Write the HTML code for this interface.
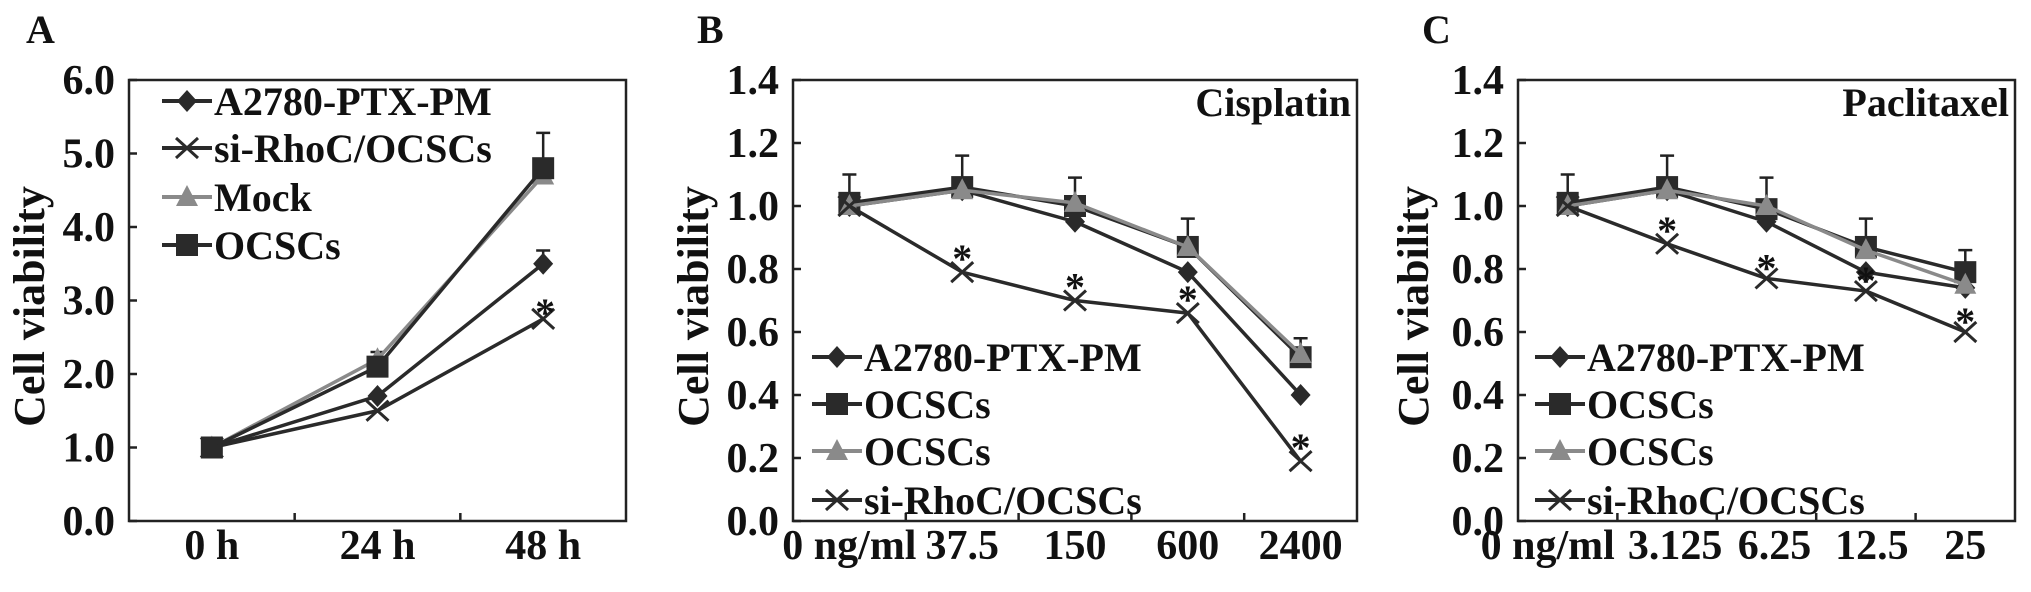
<!DOCTYPE html>
<html><head><meta charset="utf-8"><style>
html,body{margin:0;padding:0;background:#fff}
svg{display:block}
text{font-family:"Liberation Serif",serif;font-weight:bold;fill:#111}
</style></head>
<body>
<svg id="fig" width="2031" height="592" viewBox="0 0 2031 592" xmlns="http://www.w3.org/2000/svg"></svg>
<script>
// Panel A data
const catsA = ["0 h","24 h","48 h"];
const aPtx = [1.0,1.7,3.5];
const aSi = [1.0,1.5,2.75];
const aMock = [1.0,2.2,4.7];
const aOcsc = [1.0,2.1,4.8];
const aErrTop = [1.0,2.3,5.28];
const aErrPtx = [null,null,3.68];
const aStar = [null,null,2.95];
const ticksA = ["0.0","1.0","2.0","3.0","4.0","5.0","6.0"];
// Panel B data
const catsB = ["0 ng/ml","37.5","150","600","2400"];
const bPtx = [1.0,1.05,0.95,0.79,0.40];
const bOcsc = [1.01,1.06,1.0,0.87,0.52];
const bTri = [1.0,1.05,1.01,0.87,0.53];
const bSi = [1.0,0.79,0.70,0.66,0.19];
const bErrTop = [1.10,1.16,1.09,0.96,0.58];
const bStar = [null,0.86,0.77,0.73,0.26];
// Panel C data
const catsC = ["0 ng/ml","3.125","6.25","12.5","25"];
const cPtx = [1.0,1.05,0.95,0.79,0.74];
const cOcsc = [1.01,1.06,0.99,0.87,0.79];
const cTri = [1.0,1.05,1.0,0.86,0.75];
const cSi = [1.0,0.88,0.77,0.73,0.60];
const cErrTop = [1.10,1.16,1.09,0.96,0.86];
const cStar = [null,0.95,0.83,0.79,0.66];
const ticksBC = ["0.0","0.2","0.4","0.6","0.8","1.0","1.2","1.4"];

const NS="http://www.w3.org/2000/svg";
const svg=document.getElementById('fig');
function el(tag,attrs,parent){const e=document.createElementNS(NS,tag);for(const k in attrs)e.setAttribute(k,attrs[k]);(parent||svg).appendChild(e);return e;}
function txt(s,x,y,size,anchor,parent){const t=el('text',{x:x,y:y,'font-size':size,'text-anchor':anchor||'middle'},parent);t.textContent=s;return t;}

function marker(g,type,x,y,color){
  let m;
  if(type==='diamond') m=el('polygon',{points:`${x},${y-11} ${x+10},${y} ${x},${y+11} ${x-10},${y}`,fill:color},g);
  else if(type==='square') m=el('rect',{x:x-11,y:y-11,width:22,height:22,fill:color},g);
  else if(type==='triangle') m=el('polygon',{points:`${x},${y-12} ${x+11},${y+9} ${x-11},${y+9}`,fill:color},g);
  else m=el('path',{d:`M${x-11} ${y-10}L${x+11} ${y+10}M${x-11} ${y+10}L${x+11} ${y-10}`,stroke:color,'stroke-width':3,fill:'none'},g);
  
  
}

function panel(o){
  const g=el('g',{});
  
  
  const n=o.cats.length, bw=(o.R-o.L)/n;
  const xs=i=>o.L+bw*(i+0.5);
  const ys=v=>o.B-(v/o.ymax)*(o.B-o.T);
  // axes box
  const box=el('rect',{x:o.L,y:o.T,width:o.R-o.L,height:o.B-o.T,fill:'none',stroke:'#222','stroke-width':2.5},g);
  
  
  // y ticks
  o.ticks.forEach((t,i)=>{
    const v=parseFloat(t), y=ys(v);
    el('line',{x1:o.L,x2:o.L+8,y1:y,y2:y,stroke:'#222','stroke-width':2.5},g);
    const tl=txt(t,o.L-14,y+14,42,'end',g);
    
    
  });
  // x ticks
  for(let i=1;i<n;i++){el('line',{x1:o.L+bw*i,x2:o.L+bw*i,y1:o.B,y2:o.B-8,stroke:'#222','stroke-width':2.5},g);}
  o.cats.forEach((c,i)=>{
    const xl=txt(c,xs(i)+(o.xoff?o.xoff[i]:0),559,42,'middle',g);
    
    
  });
  // y title
  const yt=txt('Cell viability',0,0,44,'middle',g);
  yt.setAttribute('transform',`translate(${o.ytx},${(o.T+o.B)/2+6}) rotate(-90)`);
  
  
  const pl=txt(o.letter,o.letterX,43,40,'start',g);
  
  
  if(o.drug){const d=txt(o.drug,o.R-6,116,40,'end',g);}
  // error bars
  o.err.forEach((e,i)=>{
    if(e==null)return;
    const base=Math.max(o.series[1].vals[i],o.series[2].vals[i]);
    if(e<=base+0.001)return;
    const eb=el('path',{d:`M${xs(i)} ${ys(base)}L${xs(i)} ${ys(e)}M${xs(i)-7} ${ys(e)}L${xs(i)+7} ${ys(e)}`,stroke:'#222','stroke-width':2.5,fill:'none'},g);
    
    
  });
  if(o.err2){o.err2.forEach((e,i)=>{if(e==null)return;const b=o.series[0].vals[i];
    const eb=el('path',{d:`M${xs(i)} ${ys(b)}L${xs(i)} ${ys(e)}M${xs(i)-7} ${ys(e)}L${xs(i)+7} ${ys(e)}`,stroke:'#222','stroke-width':2.5,fill:'none'},g);
    
    });}
  // series
  o.series.forEach(s=>{
    const sg=el('g',{},g);
    
    
    const pts=s.vals.map((v,i)=>xs(i)+','+ys(v)).join(' ');
    el('polyline',{points:pts,fill:'none',stroke:s.color,'stroke-width':3.5,'stroke-linejoin':'round'},sg);
    s.vals.forEach((v,i)=>marker(sg,s.type,xs(i),ys(v),s.color));
  });
  // stars
  o.stars.forEach((v,i)=>{if(v==null)return;const st=txt('*',xs(i)+(o.starOff||0),ys(v)+22,40,'middle',g);});
  // legend
  const lg=el('g',{},g);
  
  
  o.legend.forEach((s,k)=>{
    const y=o.legY[k];
    const eg=el('g',{},lg);
    
    
    el('line',{x1:o.legX,x2:o.legX+50,y1:y,y2:y,stroke:s.color,'stroke-width':4},eg);
    marker(eg,s.type,o.legX+25,y,s.color);
    txt(s.label,o.legX+52,y+14,40,'start',eg);
  });
}
const DK='#2a2a2a', GR='#8a8a8a';
panel({name:'panel-a',letter:'A',letterX:26,L:129,R:626,T:80,B:521,ymax:6,ticks:ticksA,cats:catsA,ytx:44,
  series:[{key:'ptx-pm',vals:aPtx,type:'diamond',color:DK},{key:'mock',vals:aMock,type:'triangle',color:GR},{key:'ocscs',vals:aOcsc,type:'square',color:DK},{key:'si-rhoc',vals:aSi,type:'x',color:DK}],
  err:aErrTop,err2:aErrPtx,stars:aStar,starOff:2,
  legend:[{label:'A2780-PTX-PM',type:'diamond',color:DK},{label:'si-RhoC/OCSCs',type:'x',color:DK},{label:'Mock',type:'triangle',color:GR},{label:'OCSCs',type:'square',color:DK}],
  legX:162,legY:[101,148,197,245]});
panel({name:'panel-b',letter:'B',letterX:697,L:793,R:1357,T:80,B:521,ymax:1.4,ticks:ticksBC,cats:catsB,ytx:708,drug:'Cisplatin',
  series:[{key:'ptx-pm',vals:bPtx,type:'diamond',color:DK},{key:'ocscs',vals:bOcsc,type:'square',color:DK},{key:'ocscs-mock',vals:bTri,type:'triangle',color:GR},{key:'si-rhoc',vals:bSi,type:'x',color:DK}],
  err:bErrTop,stars:bStar,
  legend:[{label:'A2780-PTX-PM',type:'diamond',color:DK},{label:'OCSCs',type:'square',color:DK},{label:'OCSCs',type:'triangle',color:GR},{label:'si-RhoC/OCSCs',type:'x',color:DK}],
  legX:812,legY:[357,404,451,500]});
panel({name:'panel-c',letter:'C',letterX:1422,L:1518,R:2015,T:80,B:521,ymax:1.4,ticks:ticksBC,cats:catsC,ytx:1428,drug:'Paclitaxel',xoff:[-20,8,8,6,0],
  series:[{key:'ptx-pm',vals:cPtx,type:'diamond',color:DK},{key:'ocscs',vals:cOcsc,type:'square',color:DK},{key:'ocscs-mock',vals:cTri,type:'triangle',color:GR},{key:'si-rhoc',vals:cSi,type:'x',color:DK}],
  err:cErrTop,stars:cStar,
  legend:[{label:'A2780-PTX-PM',type:'diamond',color:DK},{label:'OCSCs',type:'square',color:DK},{label:'OCSCs',type:'triangle',color:GR},{label:'si-RhoC/OCSCs',type:'x',color:DK}],
  legX:1535,legY:[357,404,451,500]});
</script>
</body></html>
